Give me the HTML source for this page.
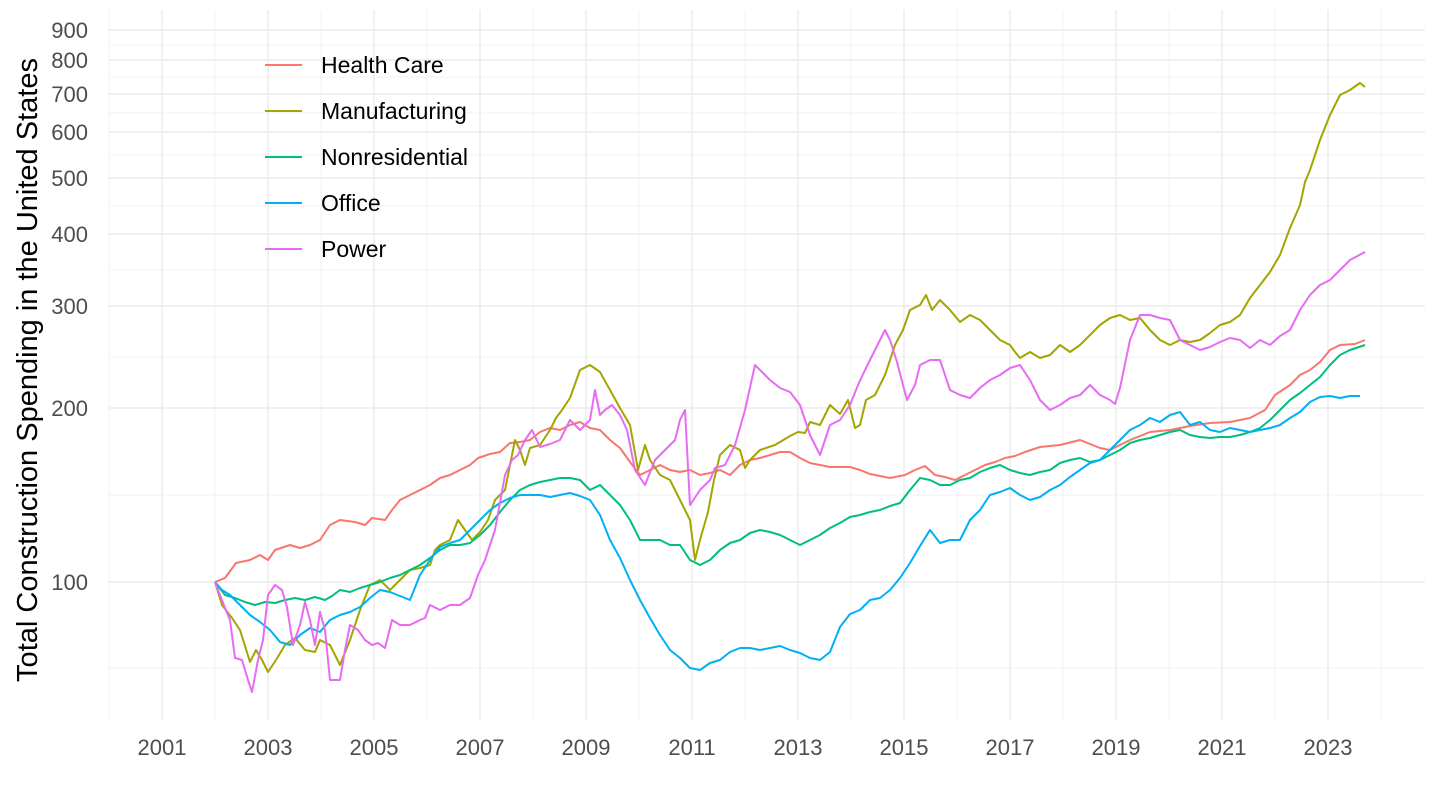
<!DOCTYPE html>
<html><head><meta charset="utf-8"><style>
body{margin:0;background:#fff}
svg{display:block;font-family:"Liberation Sans",sans-serif}
</style></head><body>
<svg width="1440" height="810" viewBox="0 0 1440 810" xmlns="http://www.w3.org/2000/svg">
<g stroke="#ebebeb" stroke-width="0.7" fill="none">
<line x1="109" x2="1425" y1="668" y2="668"/><line x1="109" x2="1425" y1="495" y2="495"/><line x1="109" x2="1425" y1="357" y2="357"/><line x1="109" x2="1425" y1="270" y2="270"/><line x1="109" x2="1425" y1="206" y2="206"/><line x1="109" x2="1425" y1="155" y2="155"/><line x1="109" x2="1425" y1="113" y2="113"/><line x1="109" x2="1425" y1="77" y2="77"/><line x1="109" x2="1425" y1="45" y2="45"/>
<line x1="109" x2="109" y1="10" y2="720"/><line x1="215" x2="215" y1="10" y2="720"/><line x1="321" x2="321" y1="10" y2="720"/><line x1="427" x2="427" y1="10" y2="720"/><line x1="533" x2="533" y1="10" y2="720"/><line x1="639" x2="639" y1="10" y2="720"/><line x1="745" x2="745" y1="10" y2="720"/><line x1="851" x2="851" y1="10" y2="720"/><line x1="957" x2="957" y1="10" y2="720"/><line x1="1063" x2="1063" y1="10" y2="720"/><line x1="1169" x2="1169" y1="10" y2="720"/><line x1="1275" x2="1275" y1="10" y2="720"/><line x1="1381" x2="1381" y1="10" y2="720"/>
</g>
<g stroke="#ebebeb" stroke-width="1.4" fill="none">
<line x1="109" x2="1425" y1="582" y2="582"/><line x1="109" x2="1425" y1="408" y2="408"/><line x1="109" x2="1425" y1="306" y2="306"/><line x1="109" x2="1425" y1="234" y2="234"/><line x1="109" x2="1425" y1="178" y2="178"/><line x1="109" x2="1425" y1="132" y2="132"/><line x1="109" x2="1425" y1="94" y2="94"/><line x1="109" x2="1425" y1="60" y2="60"/><line x1="109" x2="1425" y1="30" y2="30"/>
<line x1="162" x2="162" y1="10" y2="720"/><line x1="268" x2="268" y1="10" y2="720"/><line x1="374" x2="374" y1="10" y2="720"/><line x1="480" x2="480" y1="10" y2="720"/><line x1="586" x2="586" y1="10" y2="720"/><line x1="692" x2="692" y1="10" y2="720"/><line x1="798" x2="798" y1="10" y2="720"/><line x1="904" x2="904" y1="10" y2="720"/><line x1="1010" x2="1010" y1="10" y2="720"/><line x1="1116" x2="1116" y1="10" y2="720"/><line x1="1222" x2="1222" y1="10" y2="720"/><line x1="1328" x2="1328" y1="10" y2="720"/>
</g>
<g fill="#4d4d4d" font-size="22" text-anchor="end">
<text x="88" y="590">100</text><text x="88" y="416">200</text><text x="88" y="314">300</text><text x="88" y="242">400</text><text x="88" y="186">500</text><text x="88" y="140">600</text><text x="88" y="102">700</text><text x="88" y="68">800</text><text x="88" y="38">900</text>
</g>
<g fill="#4d4d4d" font-size="22" text-anchor="middle">
<text x="162" y="755">2001</text><text x="268" y="755">2003</text><text x="374" y="755">2005</text><text x="480" y="755">2007</text><text x="586" y="755">2009</text><text x="692" y="755">2011</text><text x="798" y="755">2013</text><text x="904" y="755">2015</text><text x="1010" y="755">2017</text><text x="1116" y="755">2019</text><text x="1222" y="755">2021</text><text x="1328" y="755">2023</text>
</g>
<text transform="translate(37,370) rotate(-90)" font-size="29" text-anchor="middle" fill="#000">Total Construction Spending in the United States</text>
<g fill="none" stroke-width="2" stroke-linejoin="round">
<polyline stroke="#F8766D" points="215,582 225,578 236,563 250,560 260,555 268,560 275,550 290,545 300,548 310,545 320,540 330,525 340,520 355,522 365,525 372,518 385,520 392,510 400,500 410,495 420,490 430,485 440,478 450,475 460,470 470,465 478,458 490,454 500,452 510,443 520,442 530,440 540,432 550,428 560,430 570,425 580,422 590,428 600,430 610,440 620,448 630,462 640,475 650,470 660,465 670,470 680,472 690,470 700,475 710,473 720,470 730,475 740,465 750,460 760,458 770,455 780,452 790,452 800,458 810,463 830,467 850,467 860,470 870,474 880,476 890,478 905,475 915,470 925,466 935,475 945,477 955,480 965,475 975,470 985,465 995,462 1005,458 1015,456 1025,452 1040,447 1060,445 1080,440 1100,448 1110,450 1130,440 1150,432 1170,430 1190,426 1210,423 1230,422 1250,418 1265,410 1275,395 1290,385 1300,375 1310,370 1320,362 1330,350 1340,345 1355,344 1365,340"/>
<polyline stroke="#A3A500" points="215,582 222,605 232,618 240,630 250,662 256,650 262,660 268,672 276,660 285,645 295,638 305,650 315,652 320,640 330,645 340,665 350,640 360,610 370,585 380,580 390,590 400,580 410,570 420,568 430,565 435,550 440,545 450,540 458,520 465,530 472,540 480,532 488,520 495,500 505,490 515,440 520,450 525,465 530,448 540,445 550,430 556,418 562,410 570,398 580,370 590,365 600,372 610,390 620,408 630,425 638,470 645,445 650,460 660,475 670,480 680,500 690,520 695,560 700,540 708,512 714,480 720,455 730,445 740,450 745,468 750,460 760,450 775,445 790,436 798,432 805,433 810,422 820,425 830,405 840,414 848,400 855,428 860,425 866,400 875,395 885,375 895,345 903,330 910,310 920,305 926,295 932,310 940,300 950,310 960,322 970,315 980,320 990,330 1000,340 1010,345 1015,352 1020,358 1030,352 1040,358 1050,355 1060,345 1070,352 1080,345 1090,335 1100,325 1110,318 1120,315 1130,320 1140,318 1150,330 1160,340 1170,345 1180,340 1190,342 1200,340 1210,333 1220,325 1230,322 1240,315 1250,298 1260,285 1270,272 1280,255 1290,228 1300,205 1305,182 1310,170 1320,140 1330,115 1340,95 1350,90 1360,83 1365,87"/>
<polyline stroke="#00BF7D" points="215,582 225,595 235,598 245,602 255,605 265,602 275,603 285,600 295,598 305,600 315,597 325,600 332,596 340,590 350,592 360,588 370,585 380,582 390,578 400,575 410,570 420,565 430,558 440,550 450,545 460,545 470,543 480,535 490,525 500,512 510,500 520,490 530,485 540,482 550,480 560,478 570,478 580,480 590,490 600,485 610,495 620,505 630,520 640,540 650,540 660,540 670,545 680,545 690,560 700,565 710,560 720,550 730,543 740,540 750,533 760,530 770,532 780,535 790,540 800,545 810,540 820,535 830,528 840,523 850,517 860,515 870,512 880,510 890,506 900,503 910,490 920,478 930,480 940,485 950,485 960,480 970,478 980,472 990,468 1000,465 1010,470 1020,473 1030,475 1040,472 1050,470 1060,463 1070,460 1080,458 1090,462 1100,460 1110,455 1120,450 1130,443 1140,440 1150,438 1160,435 1170,432 1180,430 1190,435 1200,437 1210,438 1220,437 1230,437 1240,435 1250,432 1260,428 1270,420 1280,410 1290,400 1300,393 1310,385 1320,377 1330,365 1340,355 1350,350 1365,345"/>
<polyline stroke="#00B0F6" points="215,582 222,590 230,595 240,605 250,615 260,622 270,630 280,642 290,645 300,635 310,628 320,632 330,620 340,615 350,612 360,607 370,598 380,590 390,592 400,596 410,600 420,575 430,560 440,547 450,543 460,540 470,530 480,520 490,510 500,503 510,498 520,495 530,495 540,495 550,497 560,495 570,493 580,496 590,500 600,515 610,540 620,558 630,580 640,600 650,618 660,635 670,650 680,658 690,668 700,670 710,663 720,660 730,652 740,648 750,648 760,650 770,648 780,646 790,650 800,653 810,658 820,660 830,652 840,627 850,614 860,610 870,600 880,598 890,590 900,578 910,563 920,546 930,530 940,543 950,540 960,540 970,520 980,510 990,495 1000,492 1010,488 1020,495 1030,500 1040,497 1050,490 1060,485 1070,477 1080,470 1090,463 1100,460 1110,450 1120,440 1130,430 1140,425 1150,418 1160,422 1170,415 1180,412 1190,425 1200,422 1210,430 1220,432 1230,428 1240,430 1250,432 1260,430 1270,428 1280,425 1290,418 1300,412 1310,402 1320,397 1330,396 1340,398 1350,396 1360,396"/>
<polyline stroke="#E76BF3" points="215,582 225,608 230,620 235,658 242,660 248,680 252,692 258,660 263,640 268,595 275,585 282,590 287,607 293,645 300,625 305,602 310,620 315,645 320,612 325,630 330,680 340,680 345,650 350,625 358,630 365,640 372,645 378,643 385,648 392,620 400,625 410,625 420,620 425,618 430,605 440,610 450,605 460,605 470,598 478,575 485,560 495,530 505,475 512,460 518,455 525,440 532,430 540,447 550,444 560,440 570,420 580,430 590,420 595,390 600,415 605,410 612,405 620,415 627,430 635,470 645,485 655,460 665,450 675,440 680,420 685,410 690,505 700,490 710,480 715,468 725,465 735,445 745,410 755,365 765,375 770,380 780,388 790,392 800,405 810,435 820,455 830,425 840,420 850,405 858,385 865,370 875,350 885,330 890,340 897,362 907,400 915,385 920,365 930,360 940,360 950,390 960,395 970,398 980,388 990,380 1000,375 1010,368 1020,365 1030,380 1040,400 1050,410 1060,405 1070,398 1080,395 1090,385 1100,395 1110,400 1115,404 1120,388 1130,340 1140,315 1150,315 1160,318 1170,320 1180,340 1190,345 1200,350 1210,347 1220,342 1230,338 1240,340 1250,348 1260,340 1270,345 1280,336 1290,330 1300,310 1310,295 1320,285 1330,280 1340,270 1350,260 1365,252"/>
</g>
<g stroke-width="2">
<line x1="265" x2="302" y1="65" y2="65" stroke="#F8766D"/>
<line x1="265" x2="302" y1="111" y2="111" stroke="#A3A500"/>
<line x1="265" x2="302" y1="157" y2="157" stroke="#00BF7D"/>
<line x1="265" x2="302" y1="203" y2="203" stroke="#00B0F6"/>
<line x1="265" x2="302" y1="249" y2="249" stroke="#E76BF3"/>
</g>
<g font-size="23" fill="#000">
<text x="321" y="73">Health Care</text>
<text x="321" y="119">Manufacturing</text>
<text x="321" y="165">Nonresidential</text>
<text x="321" y="211">Office</text>
<text x="321" y="257">Power</text>
</g>
</svg>
</body></html>
